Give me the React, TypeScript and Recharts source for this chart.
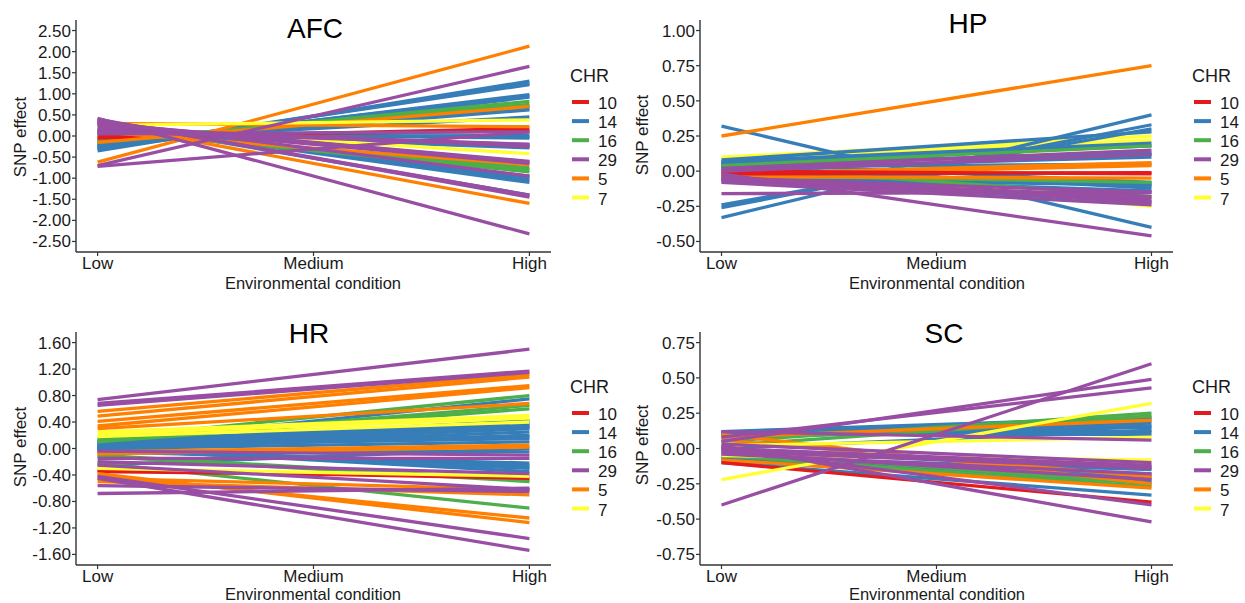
import React from 'react';
import { LineChart, Line, XAxis, YAxis } from 'recharts';

// Environmental gradient levels (x = 1, 2, 3)
const LEVELS = ['Low', 'Medium', 'High'];

// Chromosome legend order and Set1 colours
const CHR_KEYS = ['10', '14', '16', '29', '5', '7'];
const CHR_COLORS: Record<string, string> = {
  '10': '#E41A1C',
  '14': '#377EB8',
  '16': '#4DAF4A',
  '29': '#984EA3',
  '5': '#FF7F00',
  '7': '#FFFF33',
};

// ---- AFC: SNP effect at Low and High environment ----
const afcChr = [
  '14', '14', '14', '14', '14', '14', '14', '14', '14', '14', '14', '14', '14', '14', '14',
  '14', '14', '14', '14', '14', '14',
  '16', '16', '16', '16', '16', '16',
  '10', '10',
  '5', '5', '5', '5', '5',
  '7', '7',
  '29', '29', '29', '29', '29', '29', '29', '29', '29', '29', '29', '29', '29',
];
const afcLow = [
  -0.35, -0.30, -0.25, -0.28, -0.22, -0.20, -0.10, -0.05, 0.05, 0.10, 0.08, 0.25, 0.30, 0.30, 0.35,
  -0.30, -0.22, -0.18, 0.28, 0.12, 0.06,
  -0.15, -0.12, 0.10, 0.15, -0.10, 0.12,
  -0.05, 0.0,
  -0.62, 0.30, -0.15, 0.10, 0.30,
  0.25, 0.22,
  -0.70, -0.72, 0.05, 0.15, 0.20, 0.30, 0.25, 0.35, 0.40, 0.42, 0.30, 0.38, 0.10,
];
const afcHigh = [
  1.30, 1.22, 0.98, 0.92, 0.70, 0.62, 0.45, 0.02, -0.05, -0.22, -0.28, -0.95, -1.05, -1.10, -1.40,
  1.25, 0.95, 0.65, -1.00, -0.25, -0.02,
  0.82, 0.75, -0.75, -0.85, 0.70, -0.80,
  0.18, 0.12,
  2.13, 0.22, 0.70, -0.68, -1.60,
  0.38, -0.42,
  1.65, 0.10, 0.10, -0.20, -0.25, -0.60, -0.65, -0.95, -1.45, -2.32, -0.62, -1.40, -0.20,
];
const afcTicks = [-2.5, -2, -1.5, -1, -0.5, 0, 0.5, 1, 1.5, 2, 2.5];

// ---- HP ----
const hpChr = [
  '7', '7', '7', '7',
  '14', '14', '14', '14', '14', '14', '14', '14', '14', '14', '14', '14', '14',
  '14', '14', '14', '14',
  '16', '16', '16',
  '5', '5', '5', '5',
  '10', '10',
  '29', '29', '29', '29', '29', '29', '29', '29', '29',
];
const hpLow = [
  0.10, 0.09, 0.05, -0.02,
  0.32, -0.33, -0.26, -0.24, 0.08, 0.07, 0.05, 0.02, 0.06, 0.04, -0.06, 0.03, -0.05,
  0.06, 0.05, -0.04, 0.0,
  0.04, 0.03, -0.03,
  0.25, -0.02, -0.03, -0.04,
  -0.02, 0.0,
  -0.02, -0.16, 0.02, 0.0, -0.05, -0.07, -0.08, -0.06, -0.04,
];
const hpHigh = [
  0.25, 0.22, -0.25, -0.20,
  -0.40, 0.40, 0.33, 0.30, 0.28, 0.20, 0.13, 0.10, -0.08, -0.12, -0.22, 0.05, -0.10,
  0.18, 0.12, -0.14, -0.10,
  0.18, -0.18, -0.08,
  0.75, 0.06, 0.04, -0.05,
  -0.01, -0.02,
  -0.46, -0.15, 0.15, 0.12, -0.15, -0.20, -0.24, -0.18, -0.22,
];
const hpTicks = [-0.5, -0.25, 0, 0.25, 0.5, 0.75, 1];

// ---- HR ----
const hrChr = [
  '14', '14', '14', '14', '14', '14', '14', '14', '14', '14', '14', '14', '14', '14',
  '14', '14', '14', '14', '14', '14',
  '16', '16', '16', '16', '16', '16',
  '10', '10',
  '7', '7', '7', '7',
  '5', '5', '5', '5', '5', '5', '5', '5', '5', '5', '5',
  '29', '29', '29', '29', '29', '29', '29', '29', '29', '29', '29',
];
const hrLow = [
  0.08, 0.10, 0.05, 0.02, 0.0, 0.05, 0.0, -0.02, -0.05, 0.02, 0.0, -0.25, 0.12, 0.08,
  0.06, 0.03, 0.0, -0.03, -0.02, 0.04,
  0.15, 0.12, 0.10, -0.10, -0.12, -0.22,
  -0.33, -0.35,
  0.25, 0.22, 0.18, -0.30,
  0.56, 0.49, 0.41, 0.34, 0.30, -0.05, -0.08, -0.45, -0.50, -0.41, -0.38,
  0.74, 0.68, 0.65, -0.04, -0.15, -0.20, -0.25, -0.56, -0.68, -0.42, -0.45,
];
const hrHigh = [
  0.75, 0.42, 0.38, 0.30, 0.25, 0.18, 0.10, -0.05, -0.22, -0.28, -0.35, 0.0, 0.35, 0.32,
  0.40, 0.33, 0.20, -0.25, -0.30, 0.15,
  0.80, 0.65, 0.60, -0.48, -0.50, -0.90,
  -0.45, -0.42,
  0.50, 0.46, 0.40, -0.42,
  1.12, 1.08, 0.95, 0.92, 0.68, 0.05, 0.02, -0.62, -0.70, -1.05, -1.12,
  1.50, 1.17, 1.15, -0.10, -0.15, -0.38, -0.62, -0.65, -0.60, -1.36, -1.54,
];
const hrTicks = [-1.6, -1.2, -0.8, -0.4, 0, 0.4, 0.8, 1.2, 1.6];

// ---- SC ----
const scChr = [
  '14', '14', '14', '14', '14', '14', '14', '14', '14', '14',
  '14', '14', '14', '14',
  '16', '16', '16', '16',
  '5', '5', '5', '5',
  '10',
  '7', '7', '7',
  '29', '29', '29', '29', '29', '29', '29', '29', '29', '29', '29', '29',
];
const scLow = [
  0.12, 0.10, 0.08, 0.12, 0.10, 0.0, -0.05, -0.08, -0.10, -0.06,
  0.11, 0.09, -0.07, -0.09,
  0.05, 0.02, -0.02, -0.05,
  0.08, 0.10, -0.08, 0.06,
  -0.10,
  -0.22, 0.02, -0.05,
  -0.40, 0.05, 0.08, 0.12, 0.03, 0.0, -0.02, -0.03, 0.0, 0.02, 0.0, -0.04,
];
const scHigh = [
  0.22, 0.18, 0.15, 0.12, 0.10, 0.13, -0.18, -0.22, -0.33, -0.15,
  0.20, 0.16, -0.20, -0.24,
  0.25, 0.23, -0.25, -0.27,
  0.20, -0.25, -0.28, -0.20,
  -0.38,
  0.32, 0.08, -0.08,
  0.60, 0.49, 0.43, 0.06, -0.10, -0.12, -0.14, -0.22, -0.40, -0.52, -0.13, -0.18,
];
const scTicks = [-0.75, -0.5, -0.25, 0, 0.25, 0.5, 0.75];

const FONT = '"Liberation Sans", Arial, Helvetica, sans-serif';
const AXIS_COLOR = '#333333';
const TEXT_COLOR = '#1a1a1a';

type PanelProps = {
  chr: string[];
  low: number[];
  high: number[];
  domain: [number, number];
  ticks: number[];
  plotLeft: number;
  plotRight: number;
  plotTop: number;
  plotBottom: number;
};

function buildRows(low: number[], high: number[]) {
  const lowRow: Record<string, number> = { x: 1 };
  const highRow: Record<string, number> = { x: 3 };
  low.forEach((v, i) => {
    lowRow['s' + i] = v;
    highRow['s' + i] = high[i];
  });
  return [lowRow, highRow];
}

const Panel = ({ chr, low, high, domain, ticks, plotLeft, plotRight, plotTop, plotBottom }: PanelProps) => {
  const rows = buildRows(low, high);
  const yW = 60;
  const xH = 30;
  const m = { top: 10, right: 10, left: 10, bottom: 0 };
  const width = plotRight - plotLeft + yW + m.left + m.right;
  const height = plotBottom - plotTop + m.top + xH;
  return (
    <div style={{ position: 'absolute', left: plotLeft - yW - m.left, top: plotTop - m.top }}>
      <LineChart width={width} height={height} data={rows} margin={m}>
        <XAxis
          dataKey="x"
          type="number"
          domain={[0.9, 3.1]}
          ticks={[1, 2, 3]}
          tickFormatter={(v: number) => LEVELS[v - 1]}
          height={xH}
          axisLine={{ stroke: AXIS_COLOR, strokeWidth: 1.4 }}
          tickLine={{ stroke: AXIS_COLOR, strokeWidth: 1.2 }}
          tickSize={4}
          tickMargin={1}
          tick={{ fill: TEXT_COLOR, fontSize: 17, fontFamily: FONT }}
          interval={0}
        />
        <YAxis
          type="number"
          domain={domain}
          ticks={ticks}
          allowDataOverflow
          tickFormatter={(v: number) => v.toFixed(2)}
          width={yW}
          axisLine={{ stroke: AXIS_COLOR, strokeWidth: 1.4 }}
          tickLine={{ stroke: AXIS_COLOR, strokeWidth: 1.2 }}
          tickSize={4}
          tickMargin={1}
          tick={{ fill: TEXT_COLOR, fontSize: 17, fontFamily: FONT }}
          interval={0}
        />
        {chr.map((c, i) => (
          <Line
            key={'s' + i}
            type="linear"
            dataKey={'s' + i}
            stroke={CHR_COLORS[c]}
            strokeWidth={3.3}
            dot={false}
            activeDot={false}
            isAnimationActive={false}
          />
        ))}
      </LineChart>
    </div>
  );
};

type DecorProps = {
  title: string;
  titleX: number;
  titleY: number;
  xTitleX: number;
  xTitleY: number;
  yTitleX: number;
  yTitleY: number;
  legendX: number;
  legendY: number;
};

const Decor = ({ title, titleX, titleY, xTitleX, xTitleY, yTitleX, yTitleY, legendX, legendY }: DecorProps) => (
  <g fontFamily={FONT} fill={TEXT_COLOR}>
    <text x={titleX} y={titleY} fontSize={28} textAnchor="middle" fill="#000">
      {title}
    </text>
    <text x={xTitleX} y={xTitleY} fontSize={16.5} textAnchor="middle">
      Environmental condition
    </text>
    <text
      x={yTitleX}
      y={yTitleY}
      fontSize={17}
      textAnchor="middle"
      transform={`rotate(-90 ${yTitleX} ${yTitleY})`}
    >
      SNP effect
    </text>
    <text x={legendX} y={legendY} fontSize={18}>
      CHR
    </text>
    {CHR_KEYS.map((k, i) => {
      const base = legendY + 27 + i * 19.1;
      return (
        <g key={k}>
          <line
            x1={legendX + 2}
            x2={legendX + 19}
            y1={base - 7}
            y2={base - 7}
            stroke={CHR_COLORS[k]}
            strokeWidth={4}
          />
          <text x={legendX + 28} y={base} fontSize={17}>
            {k}
          </text>
        </g>
      );
    })}
  </g>
);

export default function App() {
  return (
    <div
      style={{
        position: 'absolute',
        left: 0,
        top: 0,
        width: 1245,
        height: 603,
        background: '#ffffff',
        overflow: 'hidden',
        fontFamily: FONT,
      }}
    >
      <Panel chr={afcChr} low={afcLow} high={afcHigh} domain={[-2.75, 2.75]} ticks={afcTicks}
        plotLeft={76} plotRight={551} plotTop={20} plotBottom={252} />
      <Panel chr={hpChr} low={hpLow} high={hpHigh} domain={[-0.575, 1.075]} ticks={hpTicks}
        plotLeft={700} plotRight={1173} plotTop={20} plotBottom={252} />
      <Panel chr={hrChr} low={hrLow} high={hrHigh} domain={[-1.76, 1.76]} ticks={hrTicks}
        plotLeft={76} plotRight={551} plotTop={332} plotBottom={565} />
      <Panel chr={scChr} low={scLow} high={scHigh} domain={[-0.825, 0.825]} ticks={scTicks}
        plotLeft={700} plotRight={1173} plotTop={332} plotBottom={565} />
      <svg
        width={1245}
        height={603}
        style={{ position: 'absolute', left: 0, top: 0, pointerEvents: 'none' }}
      >
        <Decor title="AFC" titleX={315} titleY={38} xTitleX={313} xTitleY={289}
          yTitleX={26} yTitleY={137} legendX={570} legendY={82} />
        <Decor title="HP" titleX={968} titleY={33} xTitleX={937} xTitleY={289}
          yTitleX={648} yTitleY={135} legendX={1192} legendY={82} />
        <Decor title="HR" titleX={309} titleY={343} xTitleX={313} xTitleY={600}
          yTitleX={26} yTitleY={447} legendX={570} legendY={393} />
        <Decor title="SC" titleX={944} titleY={343} xTitleX={937} xTitleY={600}
          yTitleX={648} yTitleY={445} legendX={1192} legendY={393} />
      </svg>
    </div>
  );
}
